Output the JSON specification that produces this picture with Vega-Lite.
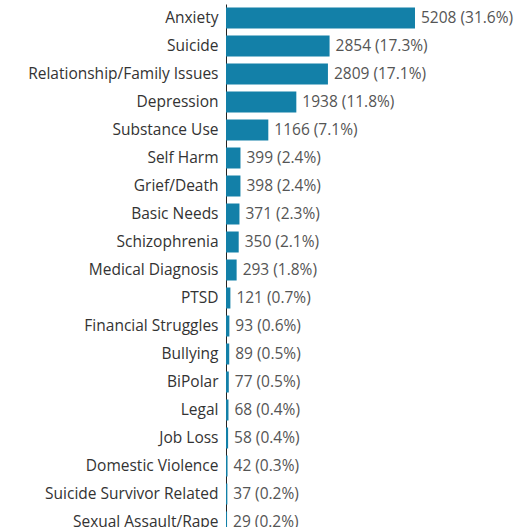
{
  "$schema": "https://vega.github.io/schema/vega-lite/v6.json",
  "autosize": "none",
  "width": 293,
  "height": 532,
  "padding": {"left": 226, "top": 4, "right": 0, "bottom": 0},
  "background": "white",
  "data": {"values": [
    {"category": "Anxiety", "count": 5208, "label": "5208 (31.6%)"},
    {"category": "Suicide", "count": 2854, "label": "2854 (17.3%)"},
    {"category": "Relationship/Family Issues", "count": 2809, "label": "2809 (17.1%)"},
    {"category": "Depression", "count": 1938, "label": "1938 (11.8%)"},
    {"category": "Substance Use", "count": 1166, "label": "1166 (7.1%)"},
    {"category": "Self Harm", "count": 399, "label": "399 (2.4%)"},
    {"category": "Grief/Death", "count": 398, "label": "398 (2.4%)"},
    {"category": "Basic Needs", "count": 371, "label": "371 (2.3%)"},
    {"category": "Schizophrenia", "count": 350, "label": "350 (2.1%)"},
    {"category": "Medical Diagnosis", "count": 293, "label": "293 (1.8%)"},
    {"category": "PTSD", "count": 121, "label": "121 (0.7%)"},
    {"category": "Financial Struggles", "count": 93, "label": "93 (0.6%)"},
    {"category": "Bullying", "count": 89, "label": "89 (0.5%)"},
    {"category": "BiPolar", "count": 77, "label": "77 (0.5%)"},
    {"category": "Legal", "count": 68, "label": "68 (0.4%)"},
    {"category": "Job Loss", "count": 58, "label": "58 (0.4%)"},
    {"category": "Domestic Violence", "count": 42, "label": "42 (0.3%)"},
    {"category": "Suicide Survivor Related", "count": 37, "label": "37 (0.2%)"},
    {"category": "Sexual Assault/Rape", "count": 29, "label": "29 (0.2%)"}
  ]},
  "encoding": {
    "y": {
      "field": "category", "type": "nominal", "sort": null,
      "scale": {"paddingInner": 0.25, "paddingOuter": 0.125},
      "axis": {"title": null, "ticks": false, "domain": true, "domainColor": "#222", "domainWidth": 1,
               "labelFont": "Open Sans", "labelFontSize": 15.5, "labelColor": "#333", "labelPadding": 8, "labelLimit": 300}
    },
    "x": {
      "field": "count", "type": "quantitative",
      "scale": {"domain": [0, 8074], "nice": false},
      "axis": null
    }
  },
  "layer": [
    {"mark": {"type": "bar", "color": "#1380a8", "x2": 1}},
    {"mark": {"type": "text", "align": "left", "dx": 6, "font": "Open Sans", "fontSize": 15.5, "color": "#555"},
     "encoding": {"text": {"field": "label"}}}
  ],
  "config": {"view": {"stroke": null}}
}
